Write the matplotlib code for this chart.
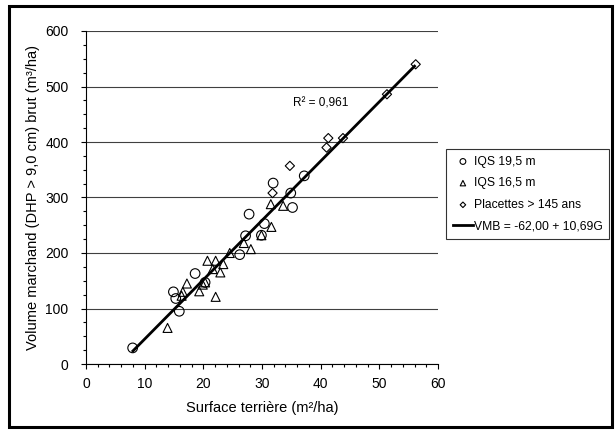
import numpy as np
import matplotlib
matplotlib.use("Agg")
import matplotlib.pyplot as plt
from matplotlib.patches import Rectangle
from matplotlib.ticker import MultipleLocator

plt.rcParams["font.family"] = ["Liberation Sans", "DejaVu Sans"]
plt.rcParams["font.size"] = 10

# IQS 19,5 m (circles)
g_iqs195 = [7.95, 14.9, 15.3, 15.9, 18.6, 20.3, 26.2, 27.2, 27.8, 29.9, 30.4, 31.9, 34.9, 35.2, 37.2]
v_iqs195 = [29, 130, 118, 95, 163, 147, 197, 231, 270, 232, 253, 326, 308, 282, 339]

# IQS 16,5 m (triangles)
g_iqs165 = [13.9, 16.3, 16.5, 17.2, 19.3, 19.9, 20.3, 20.7, 21.6, 22.1, 22.1, 22.9, 23.4,
            24.5, 26.9, 28.1, 29.9, 31.5, 31.6, 33.6]
v_iqs165 = [65, 123, 130, 145, 131, 143, 147, 186, 171, 186, 121, 165, 180,
            200, 218, 207, 232, 288, 247, 285]

# Placettes > 145 ans (diamonds)
g_old = [31.8, 34.75, 41.0, 41.3, 43.8, 51.3, 56.2]
v_old = [308, 357, 390, 407, 407, 486, 540]

# regression VMB = -62,00 + 10,69G
intercept, slope = -62.00, 10.69
g_fit = [8, 56]

fig = plt.figure(figsize=(6.15, 4.3), dpi=100)
ax = fig.add_axes([86 / 615, 66 / 430, 352 / 615, 333 / 430])

ax.set_xlim(0, 60)
ax.set_ylim(0, 600)
ax.xaxis.set_major_locator(MultipleLocator(10))
ax.xaxis.set_minor_locator(MultipleLocator(2))
ax.yaxis.set_major_locator(MultipleLocator(100))
ax.yaxis.set_minor_locator(MultipleLocator(25))
ax.tick_params(which="major", direction="out", length=3.6, width=0.8, color="black",
               labelsize=10)
ax.tick_params(which="minor", direction="out", length=2.2, width=0.8, color="black")
ax.tick_params(axis="x", which="major", pad=6)
ax.tick_params(axis="y", which="major", pad=9)
ax.spines["top"].set_visible(False)
ax.spines["right"].set_visible(False)
ax.yaxis.grid(True, color="#404040", linewidth=0.8)
ax.set_axisbelow(True)

ax.scatter(g_iqs195, v_iqs195, s=48, marker="o", facecolors="none", edgecolors="black",
           linewidths=0.8, label="IQS 19,5 m", zorder=3)
ax.scatter(g_iqs165, v_iqs165, s=42, marker="^", facecolors="none", edgecolors="black",
           linewidths=0.8, label="IQS 16,5 m", zorder=3)
ax.scatter(g_old, v_old, s=22, marker="D", facecolors="none", edgecolors="black",
           linewidths=0.8, label="Placettes > 145 ans", zorder=3)
g_line = np.array(g_fit)
ax.plot(g_line, intercept + slope * g_line, color="black", linewidth=2,
        label="VMB = -62,00 + 10,69G", zorder=4)

ax.text(35.2, 470, "R² = 0,961", fontsize=8.5, va="center")

ax.set_xlabel("Surface terrière (m²/ha)", fontsize=10.5, labelpad=7)
ax.set_ylabel("Volume marchand (DHP > 9,0 cm) brut (m³/ha)", fontsize=10.5, labelpad=4)

leg = ax.legend(loc="upper left", bbox_to_anchor=(446 / 615, 1 - 149 / 430),
                bbox_transform=fig.transFigure, frameon=True, fancybox=False,
                edgecolor="black", handlelength=1.7, handletextpad=0.05,
                borderpad=0.55, labelspacing=0.8, borderaxespad=0, markerscale=0.6,
                fontsize=8.7)
leg._legend_box.sep = 0
leg.get_frame().set_linewidth(0.8)

fig.patches.append(Rectangle((9 / 615, 3 / 430), 603 / 615, 421 / 430,
                             transform=fig.transFigure, fill=False,
                             edgecolor="black", linewidth=2.2))

fig.savefig("out.png", dpi=100)
